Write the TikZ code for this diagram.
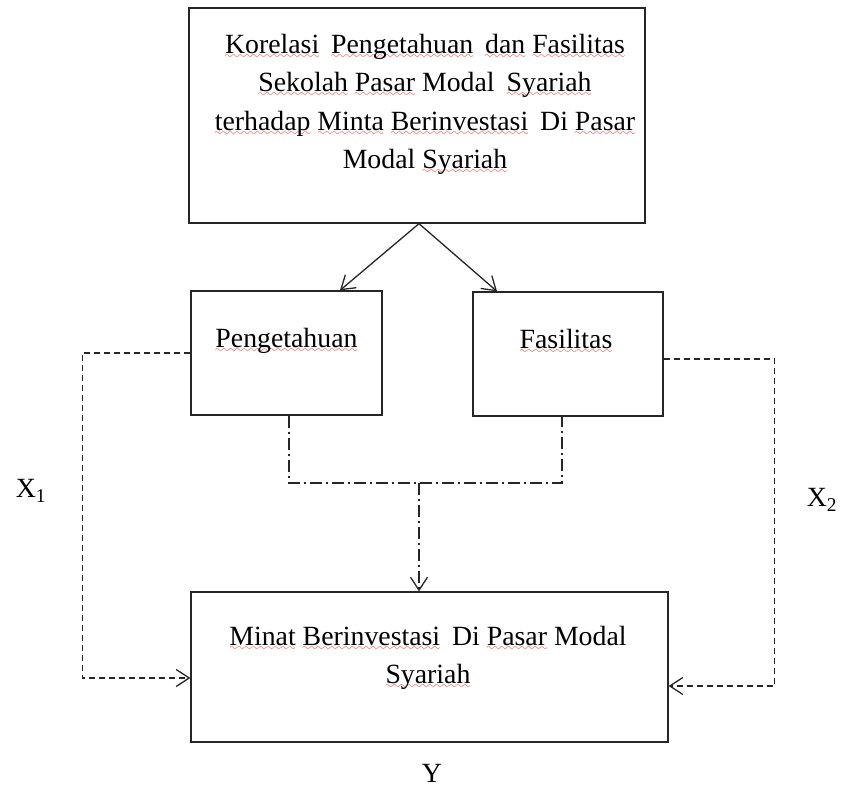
\documentclass[tikz,border=0pt]{standalone}
\usepackage{fontspec}
\setmainfont{Liberation Serif}
\usetikzlibrary{arrows.meta,positioning}
\font\wavefont=lasy10
% red spell-check wave under a word
\newcommand{\spell}[1]{\setbox0\hbox{#1}\leavevmode
  \rlap{\textcolor{red}{\lower5pt\hbox to\wd0{\xleaders\hbox{\wavefont\char58}\hfil}}}\box0\relax}
\newcommand{\wsp}{\hspace{5pt}}
\tikzset{
  box/.style={draw=black!85, line width=1.3pt, inner sep=0pt},
  lbl/.style={font=\fontsize{27.8}{38.5}\selectfont, align=center,
        inner sep=0pt, anchor=north},
  var/.style={font=\fontsize{27.8}{38.5}\selectfont, inner sep=0pt},
  flow/.style={-{Straight Barb[length=13pt,width=17pt]}, line width=1.3pt, draw=black!85},
  dflow/.style={flow, dash pattern=on 6pt off 4pt},
  ddline/.style={line width=1.3pt, draw=black!85, dash pattern=on 12pt off 4pt on 2pt off 4pt},
  ddflow/.style={flow, dash pattern=on 12pt off 4pt on 2pt off 4pt}
}
\begin{document}
\begin{tikzpicture}[x=1pt, y=-1pt]
\useasboundingbox (0,0) rectangle (841,789);
\node[box, minimum width=456pt, minimum height=215pt] (top) at (417,115.5) {};
\node[box, minimum width=191pt, minimum height=124pt] (peng) at (286.5,353) {};
\node[box, minimum width=190pt, minimum height=124pt] (fasi) at (568,354) {};
\node[box, minimum width=477pt, minimum height=150pt] (minat) at (429.5,667) {};

\node[lbl] (toptxt) at (425,34) {\spell{Korelasi}\wsp{} \spell{Pengetahuan}\wsp{} \spell{dan} \spell{Fasilitas}\\
  \spell{Sekolah} \spell{Pasar} Modal\wsp{} \spell{Syariah}\\
  \spell{terhadap} \spell{Minta} \spell{Berinvestasi}\wsp{} Di \spell{Pasar}\\
  Modal \spell{Syariah}};
\node[lbl] (pengtxt) at (286.5,328) {\spell{Pengetahuan}};
\node[lbl] (fasitxt) at (566,329) {\spell{Fasilitas}};
\node[lbl] (minattxt) at (428,626) {\spell{Minat} \spell{Berinvestasi}\wsp{} Di \spell{Pasar} Modal\\ \spell{Syariah}};

\node[var] (xone) at (31,491) {X\textsubscript{1}};
\node[var] (xtwo) at (822,500) {X\textsubscript{2}};
\node[var] (yvar) at (432,773) {Y};

\coordinate (join) at (419,483);

\draw[flow] ([xshift=2pt]top.south) -- ([xshift=53.5pt]peng.north);
\draw[flow] ([xshift=2pt]top.south) -- ([xshift=-71pt]fasi.north);
\draw[ddline] ([xshift=2.5pt]peng.south) |- (join) -| ([xshift=-6pt]fasi.south);
\draw[ddflow] (join) -- (join |- minat.north);
\draw[dflow] (peng.west) -- ++(-108,0) |- ([yshift=-11pt]minat.west);
\draw[dflow] ([yshift=-5pt]fasi.east) -- ++(111,0) |- ([yshift=-19pt]minat.east);
\end{tikzpicture}
\end{document}
